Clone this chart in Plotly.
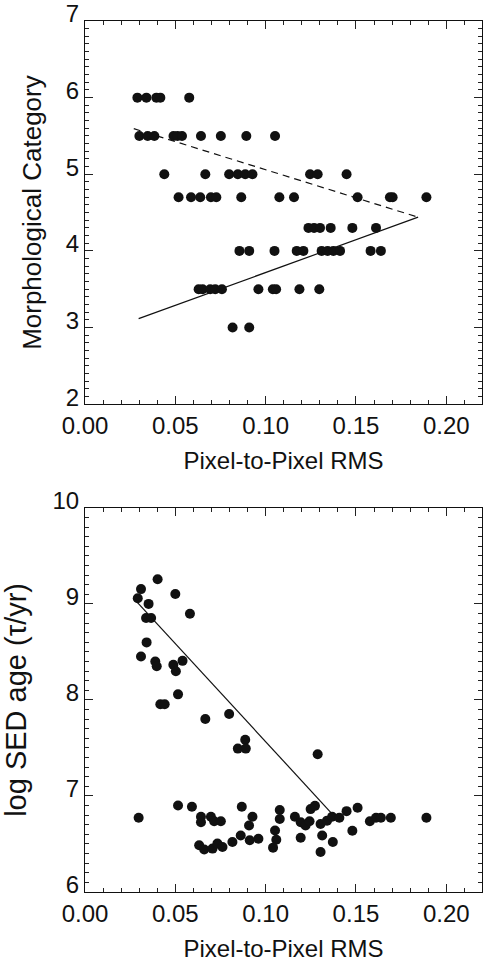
import plotly.graph_objects as go

# ---- Top panel: morphological category vs pixel-to-pixel RMS ----
rms_morph = [
    0.0290, 0.0340, 0.0395, 0.0417, 0.0577,
    0.0301, 0.0347, 0.0384, 0.0490, 0.0512, 0.0537, 0.0642, 0.0752, 0.0893, 0.1052,
    0.0439, 0.0666, 0.0798, 0.0846, 0.0887, 0.0927, 0.1246, 0.1288, 0.1448,
    0.0518, 0.0587, 0.0638, 0.0697, 0.0727, 0.0865, 0.1076, 0.1157, 0.1509, 0.1688, 0.1703, 0.1890,
    0.1237, 0.1268, 0.1301, 0.1360, 0.1480, 0.1611,
    0.0855, 0.0909, 0.1049, 0.1172, 0.1209, 0.1310, 0.1343, 0.1375, 0.1412, 0.1581, 0.1638,
    0.0629, 0.0651, 0.0693, 0.0721, 0.0758, 0.0960, 0.1040, 0.1058, 0.1187, 0.1297,
    0.0817, 0.0909,
]
morph_cat = (
    [6.0] * 5 + [5.5] * 10 + [5.0] * 9 + [4.7] * 12 + [4.3] * 6 + [4.0] * 11 + [3.5] * 10 + [3.0] * 2
)
fit_dash_x = [0.0270, 0.1844]
fit_dash_y = [5.595, 4.44]
fit_solid_x = [0.0297, 0.1844]
fit_solid_y = [3.116, 4.44]

# ---- Bottom panel: log SED age vs pixel-to-pixel RMS ----
rms_sed = [
    0.0402, 0.0310, 0.0292, 0.0352, 0.0500, 0.0338, 0.0366, 0.0581, 0.0341, 0.0310,
    0.0389, 0.0397, 0.0489, 0.0503, 0.0540, 0.0515, 0.0417, 0.0441, 0.0666, 0.0798,
    0.0887, 0.0846, 0.0890, 0.1288,
    0.0297, 0.0515, 0.0592, 0.0642, 0.0642, 0.0697, 0.0715, 0.0752, 0.0632, 0.0660,
    0.0706, 0.0733, 0.0761, 0.0816, 0.0862, 0.0868, 0.0927, 0.0908, 0.0912, 0.0960,
    0.1078, 0.1078, 0.1052, 0.1059, 0.1041, 0.1162, 0.1194, 0.1221, 0.1243, 0.1249,
    0.1273, 0.1194, 0.1304, 0.1340, 0.1368, 0.1313, 0.1304, 0.1372, 0.1408, 0.1448,
    0.1509, 0.1480, 0.1577, 0.1611, 0.1638, 0.1693, 0.1890,
]
sed_age = [
    9.257, 9.154, 9.058, 9.000, 9.103, 8.853, 8.853, 8.897, 8.599, 8.452,
    8.400, 8.350, 8.366, 8.298, 8.407, 8.058, 7.955, 7.955, 7.801, 7.853,
    7.586, 7.493, 7.493, 7.435,
    6.774, 6.901, 6.887, 6.784, 6.726, 6.784, 6.736, 6.736, 6.486, 6.442,
    6.452, 6.504, 6.469, 6.520, 6.589, 6.887, 6.784, 6.692, 6.538, 6.555,
    6.853, 6.760, 6.640, 6.545, 6.462, 6.784, 6.726, 6.692, 6.736, 6.863,
    6.897, 6.565, 6.709, 6.743, 6.784, 6.589, 6.417, 6.520, 6.774, 6.842,
    6.877, 6.637, 6.736, 6.774, 6.774, 6.774, 6.774,
]
fit_sed_x = [0.0278, 0.1360]
fit_sed_y = [9.04, 6.83]

INK = "#111111"
TICK = "#222222"
FONT = "Liberation Sans, Arial, Helvetica, sans-serif"

fig = go.Figure()
mk = dict(size=10, color=INK, line=dict(width=0))
fig.add_trace(go.Scatter(x=rms_morph, y=morph_cat, mode="markers", marker=mk,
                         xaxis="x", yaxis="y", showlegend=False))
fig.add_trace(go.Scatter(x=fit_dash_x, y=fit_dash_y, mode="lines",
                         line=dict(color=INK, width=1.2, dash="7px,5px"),
                         xaxis="x", yaxis="y", showlegend=False))
fig.add_trace(go.Scatter(x=fit_solid_x, y=fit_solid_y, mode="lines",
                         line=dict(color=INK, width=1.2),
                         xaxis="x", yaxis="y", showlegend=False))
fig.add_trace(go.Scatter(x=rms_sed, y=sed_age, mode="markers", marker=mk,
                         xaxis="x2", yaxis="y2", showlegend=False))
fig.add_trace(go.Scatter(x=fit_sed_x, y=fit_sed_y, mode="lines",
                         line=dict(color=INK, width=1.2),
                         xaxis="x2", yaxis="y2", showlegend=False))

W, H = 483, 964
L, R, T, B = 85, 0, 10, 72
xmax = (W - L - R) / 1811.0
ph = H - T - B
top_dom = [1 - (398 - T) / ph, 1]
bot_dom = [0, (892 - 503) / ph]
tf = dict(family=FONT, size=24, color=INK)

common = dict(showline=True, linecolor=INK, linewidth=1, mirror="ticks",
              ticks="inside", ticklen=8, tickwidth=1, tickcolor=TICK,
              zeroline=False, showgrid=False, tickfont=tf)
xminor = dict(ticks="inside", ticklen=4, dtick=0.01, tickcolor=TICK, tickwidth=1)
yminor = dict(ticks="inside", ticklen=4, dtick=0.1, tickcolor=TICK, tickwidth=1)

fig.update_layout(
    width=W, height=H,
    margin=dict(l=L, r=R, t=T, b=B),
    paper_bgcolor="white", plot_bgcolor="white",
    font=dict(family=FONT, color=INK),
    xaxis=dict(common, anchor="y", range=[0, xmax], tick0=0, dtick=0.05, tickformat=".2f",
               minor=xminor,
               title=dict(text="Pixel-to-Pixel RMS", font=dict(size=24), standoff=14)),
    yaxis=dict(common, domain=top_dom, anchor="x", range=[2, 7], tick0=2, dtick=1,
               ticklabeloverflow="allow", ticklabelshift=-7, minor=yminor,
               title=dict(text="Morphological Category", font=dict(size=26), standoff=16)),
    xaxis2=dict(common, anchor="y2", range=[0, xmax], tick0=0, dtick=0.05, tickformat=".2f",
                minor=xminor,
                title=dict(text="Pixel-to-Pixel RMS", font=dict(size=24), standoff=14)),
    yaxis2=dict(common, domain=bot_dom, anchor="x2", range=[6, 10], tick0=6, dtick=1,
                ticklabeloverflow="allow", ticklabelshift=-7, minor=yminor,
                title=dict(text="log SED age (τ/yr)", font=dict(size=29), standoff=18)),
)

fig.write_html("out.html")
